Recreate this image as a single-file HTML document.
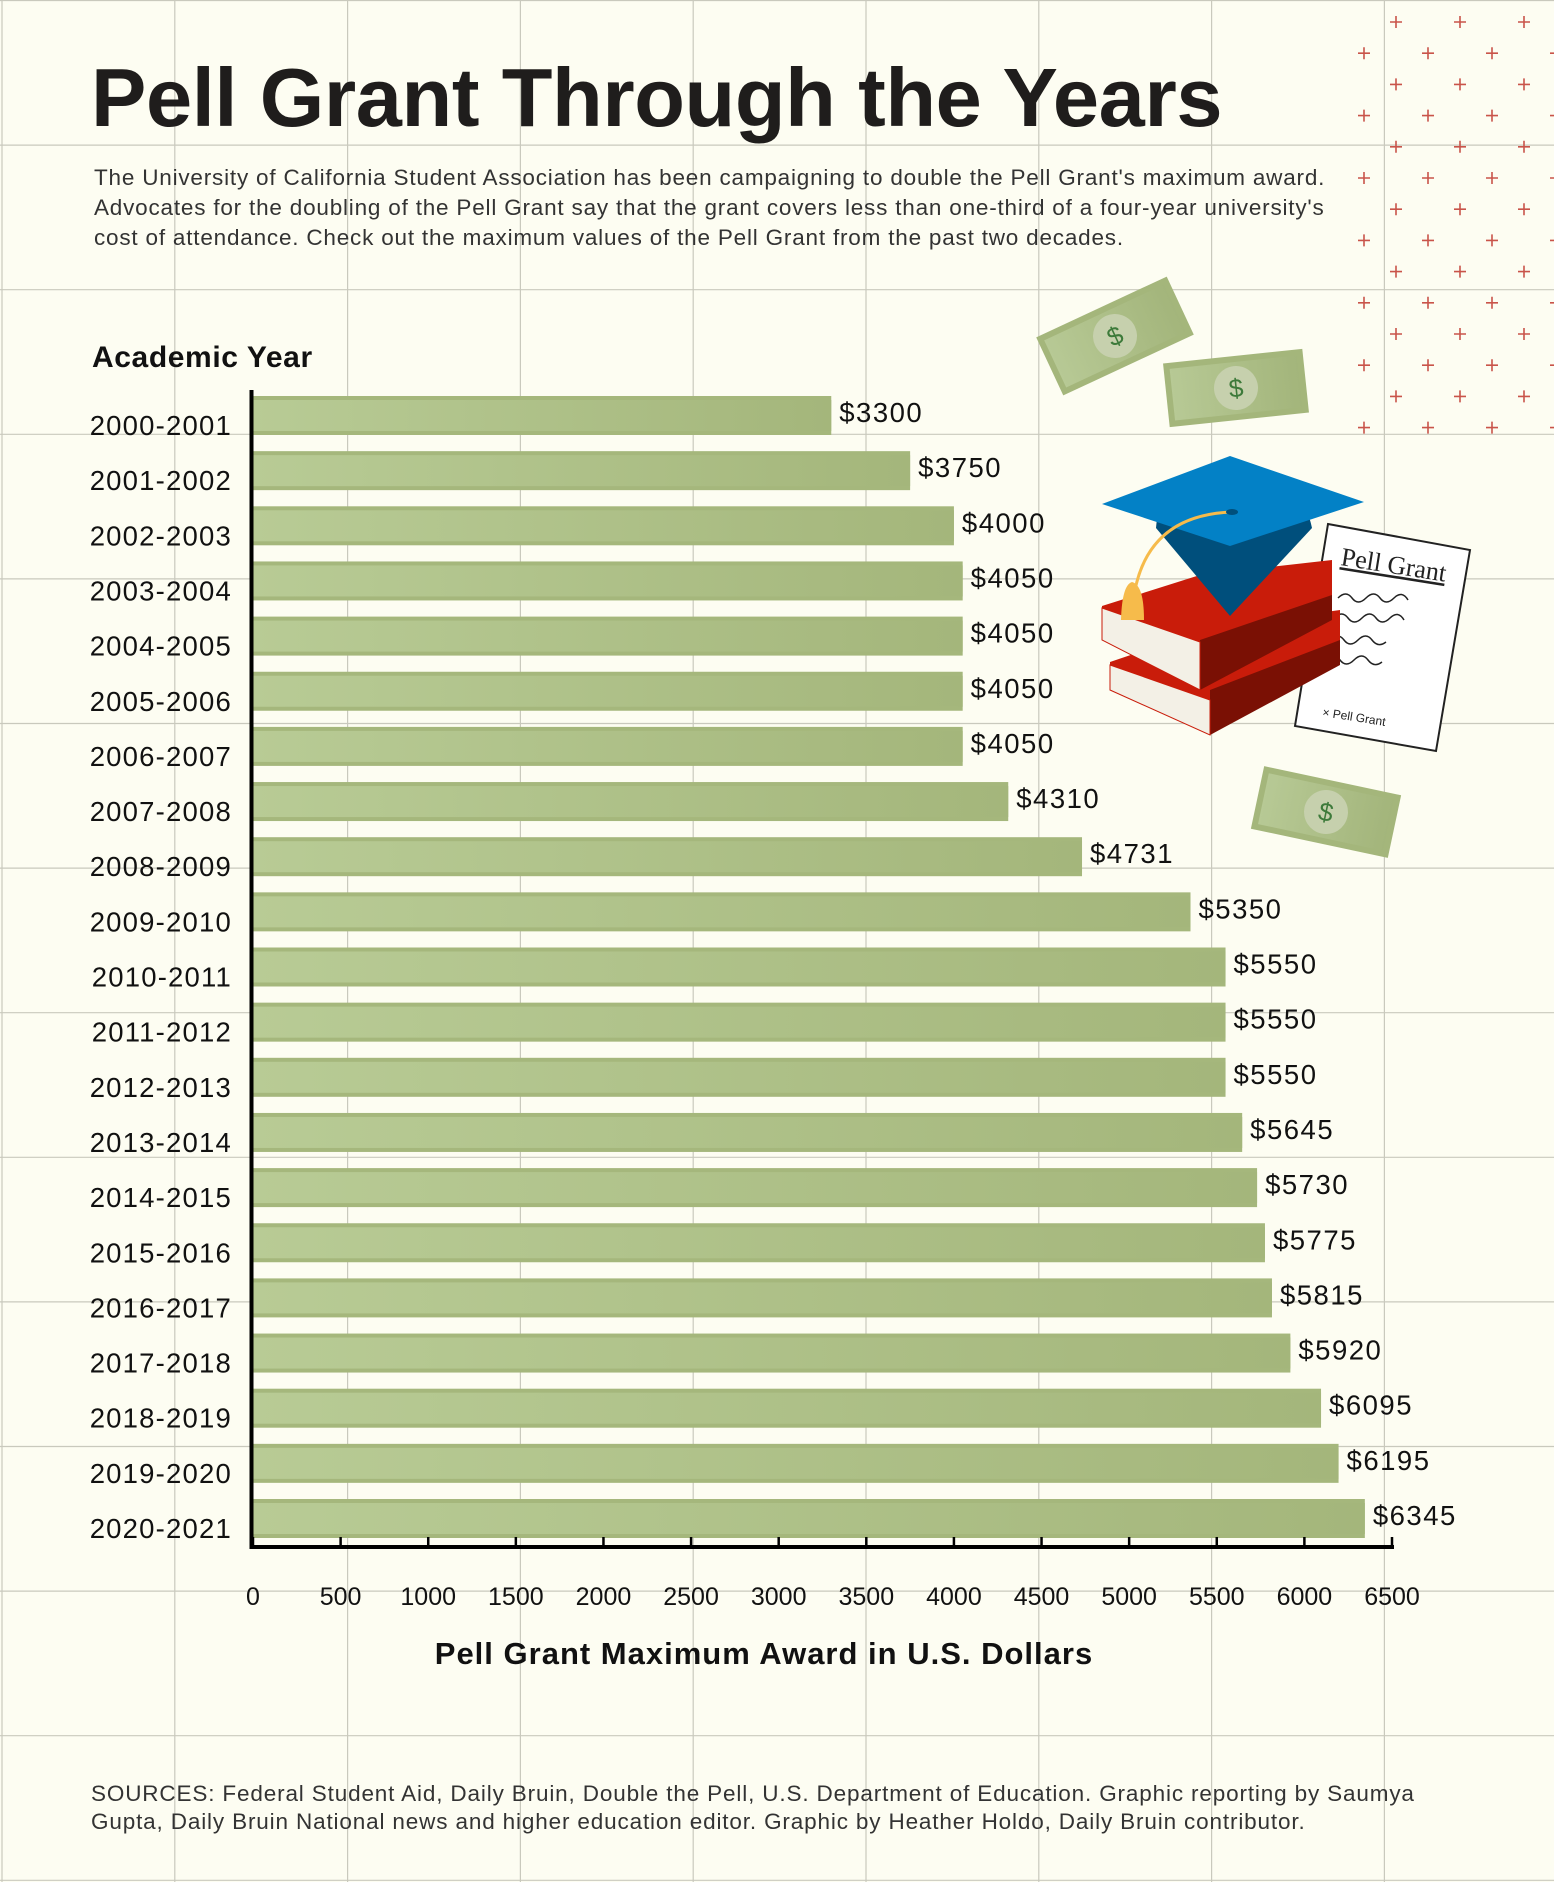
<!DOCTYPE html>
<html><head><meta charset="utf-8">
<style>
html,body{margin:0;padding:0;background:#fdfdf2;}
#root{position:relative;width:1554px;height:1882px;overflow:hidden;background:#fdfdf2;font-family:"Liberation Sans",sans-serif;}
svg{position:absolute;left:0;top:0;}
</style></head>
<body>
<div id="root">
<svg id="chart" width="1554" height="1882" viewBox="0 0 1554 1882">
<defs>
<linearGradient id="barg" x1="0" x2="1" y1="0" y2="0">
<stop offset="0" stop-color="#b8cb95"/><stop offset="1" stop-color="#a4b67b"/>
</linearGradient>
<linearGradient id="billg" x1="0" x2="1"><stop offset="0" stop-color="#b7c995"/><stop offset="1" stop-color="#a3b57b"/></linearGradient>
</defs>
<g id="grid"></g>
<g id="plus"></g>
<text x="91" y="126" font-size="83" font-weight="bold" fill="#1f1d1c" style="letter-spacing:-0.4px">Pell Grant Through the Years</text>
<g font-size="22.5" fill="#333" style="letter-spacing:0.8px">
<text x="94" y="185">The University of California Student Association has been campaigning to double the Pell Grant's maximum award.</text>
<text x="94" y="215">Advocates for the doubling of the Pell Grant say that the grant covers less than one-third of a four-year university's</text>
<text x="94" y="245">cost of attendance. Check out the maximum values of the Pell Grant from the past two decades.</text>
</g>
<text x="92" y="367" font-size="30" font-weight="bold" fill="#111" style="letter-spacing:0.6px">Academic Year</text>
<g id="bars"></g>
<g id="axes"></g>
<text x="764" y="1664" font-size="31" font-weight="bold" fill="#111" text-anchor="middle" style="letter-spacing:1px">Pell Grant Maximum Award in U.S. Dollars</text>
<g font-size="22.5" fill="#333" style="letter-spacing:0.85px">
<text x="91" y="1801">SOURCES: Federal Student Aid, Daily Bruin, Double the Pell, U.S. Department of Education. Graphic reporting by Saumya</text>
<text x="91" y="1829">Gupta, Daily Bruin National news and higher education editor. Graphic by Heather Holdo, Daily Bruin contributor.</text>
</g>
<g transform="translate(1115,336) rotate(-25)">
<rect x="-72" y="-32" width="144" height="64" fill="#a4b67b"/><rect x="-66" y="-26" width="132" height="52" fill="url(#billg)"/>
<circle r="22" fill="#c6d0ad"/><text y="9" font-size="26" text-anchor="middle" fill="#3d7a3a">$</text></g>
<g transform="translate(1236,388) rotate(-6)">
<rect x="-70" y="-32" width="140" height="64" fill="#a4b67b"/><rect x="-64" y="-26" width="128" height="52" fill="url(#billg)"/>
<circle r="22" fill="#c6d0ad"/><text y="9" font-size="26" text-anchor="middle" fill="#3d7a3a">$</text></g>
<g transform="translate(1326,812) rotate(12)">
<rect x="-70" y="-32" width="140" height="64" fill="#a4b67b"/><rect x="-64" y="-26" width="128" height="52" fill="url(#billg)"/>
<circle r="22" fill="#c6d0ad"/><text y="9" font-size="26" text-anchor="middle" fill="#3d7a3a">$</text></g>
<g>
<polygon points="1328,524 1470,550 1436,751 1295,726" fill="#fff" stroke="#222" stroke-width="2"/>
<text x="1340" y="565" font-family="Liberation Serif" font-size="26" fill="#222" transform="rotate(9 1340 565)" text-decoration="underline">Pell Grant</text>
<path d="M1338,598 q8,-8 14,0 t14,0 t14,0 t14,0 t14,2 M1334,618 q8,-8 14,0 t14,0 t14,0 t14,0 t14,2 M1330,640 q8,-8 14,0 t14,0 t14,0 t14,2 M1326,660 q8,-8 14,0 t14,0 t14,0 t14,2" fill="none" stroke="#222" stroke-width="1.5"/>
<text x="1322" y="716" font-size="12" fill="#222" transform="rotate(9 1322 716)">× Pell Grant</text>
</g>
<g>
<polygon points="1110,662 1210,628 1340,610 1340,660 1210,735 1110,690" fill="#c91c0a"/>
<polygon points="1210,690 1340,640 1340,665 1210,735" fill="#7a1004"/>
<polygon points="1110,665 1210,700 1210,735 1110,690" fill="#f3f0e6" stroke="#c91c0a"/>
<polygon points="1102,606 1200,575 1332,560 1332,610 1200,690 1102,640" fill="#c91c0a"/>
<polygon points="1200,640 1332,595 1332,620 1200,690" fill="#7a1004"/>
<polygon points="1102,608 1200,642 1200,690 1102,640" fill="#f3f0e6" stroke="#c91c0a"/>
</g>
<g>
<path d="M1156,528 Q1160,470 1230,465 Q1300,470 1312,528 L1230,616 Z" fill="#004f7c"/>
<polygon points="1230,456 1364,502 1230,546 1102,504" fill="#0381c6"/>
<path d="M1232,512 Q1150,515 1135,590" fill="none" stroke="#f6bb4b" stroke-width="3"/>
<ellipse cx="1232" cy="512" rx="6" ry="3" fill="#004f7c"/>
<path d="M1121,620 Q1122,585 1132,582 Q1144,585 1144,620 Z" fill="#f6bb4b"/>
</g>
</svg>
<script>
const years=["2000-2001","2001-2002","2002-2003","2003-2004","2004-2005","2005-2006","2006-2007","2007-2008","2008-2009","2009-2010","2010-2011","2011-2012","2012-2013","2013-2014","2014-2015","2015-2016","2016-2017","2017-2018","2018-2019","2019-2020","2020-2021"];
const values=[3300,3750,4000,4050,4050,4050,4050,4310,4731,5350,5550,5550,5550,5645,5730,5775,5815,5920,6095,6195,6345];
const xTicks=[0,500,1000,1500,2000,2500,3000,3500,4000,4500,5000,5500,6000,6500];
const NS="http://www.w3.org/2000/svg";
function mk(t,a,p){const e=document.createElementNS(NS,t);for(const k in a)e.setAttribute(k,a[k]);p.appendChild(e);return e;}
const x0=253,x1=1392,xMax=6500;
function xs(v){return x0+(v/xMax)*(x1-x0);}
function ys(i){return 396+i*55.15;}
const barH=39;
const g=document.getElementById('grid');
for(let i=0;i<10;i++){const x=2+i*172.8;const l=mk('line',{x1:x,x2:x,y1:0,y2:1882,stroke:'#c9c9bd','stroke-width':1.2},g);

}
for(let i=0;i<14;i++){const y=0.5+i*144.6;const l=mk('line',{x1:0,x2:1554,y1:y,y2:y,stroke:'#c9c9bd','stroke-width':1.2},g);

}
const pg=document.getElementById('plus');
for(let r=0;r<14;r++){const y=22+r*31.2;const xsP=r%2===0?[1396,1460,1524]:[1364,1428,1492,1556];
for(const x of xsP){const p=mk('path',{d:`M${x-6},${y}h12M${x},${y-6}v12`,stroke:'#c9544a','stroke-width':1.6},pg);

}}
const bg=document.getElementById('bars');
values.forEach((v,i)=>{const y=ys(i),w=xs(v)-x0;
const grp=mk('g',{},bg);


mk('rect',{x:x0,y:y,width:w,height:barH,fill:'#a5b77c'},grp);
mk('rect',{x:x0,y:y+4,width:w,height:barH-8,fill:'url(#barg)'},grp);
const lab=mk('text',{x:xs(v)+8,y:y+26,'font-size':27.5,fill:'#111','letter-spacing':'1.5px'},grp);lab.textContent='$'+v;


const yl=mk('text',{x:232,y:y+39,'font-size':27.5,fill:'#111','text-anchor':'end','letter-spacing':'1.2px'},bg);yl.textContent=years[i];


});
const ag=document.getElementById('axes');
mk('line',{x1:x0-1.5,x2:x0-1.5,y1:390,y2:1549,stroke:'#000','stroke-width':4},ag);
mk('line',{x1:x0-3,x2:x1+2,y1:1547,y2:1547,stroke:'#000','stroke-width':4},ag);
xTicks.forEach(t=>{const x=xs(t);
mk('line',{x1:x,x2:x,y1:1537,y2:1547,stroke:'#000','stroke-width':2.5},ag);
const tl=mk('text',{x:x,y:1605,'font-size':25,fill:'#111','text-anchor':'middle'},ag);tl.textContent=t;

});
</script>
</div>
</body></html>
